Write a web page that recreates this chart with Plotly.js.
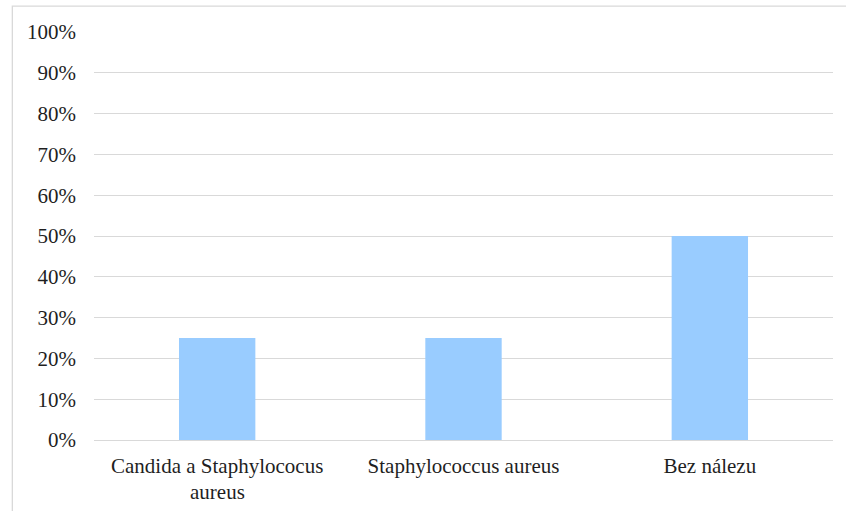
<!DOCTYPE html>
<html>
<head>
<meta charset="utf-8">
<script src="https://cdn.plot.ly/plotly-3.0.1.min.js"></script>
<style>
html,body{margin:0;padding:0;background:#fff;}
#chart{width:846px;height:511px;}
</style>
</head>
<body>
<div id="chart"></div>
<script>
const categories = ["Candida a Staphylococus", "Staphylococcus aureus", "Bez nálezu"];
const secondLines = ["aureus", "", ""];
const values = [0.25, 0.25, 0.50];

const FONT = 'Liberation Serif, Times New Roman, Times, serif';
const FSIZE = 21;
const TCOLOR = '#1f1f1f';

const trace = {
  type: 'bar',
  x: categories,
  y: values,
  marker: {color: '#99CCFF'},
  width: 0.31,
  hoverinfo: 'skip'
};

const annotations = categories.map((c, i) => ({
  x: c, xref: 'x', y: 0, yref: 'paper',
  text: secondLines[i], showarrow: false,
  xanchor: 'center', yanchor: 'top', yshift: -38,
  font: {family: FONT, size: FSIZE, color: TCOLOR}
})).filter(a => a.text);

const layout = {
  width: 846,
  height: 511,
  margin: {l: 94, r: 13, t: 32, b: 71},
  paper_bgcolor: '#ffffff',
  plot_bgcolor: '#ffffff',
  showlegend: false,
  font: {family: FONT, size: FSIZE, color: TCOLOR},
  xaxis: {
    showgrid: false,
    showline: false,
    zeroline: false,
    ticks: '',
    ticklabelstandoff: 11,
    tickfont: {family: FONT, size: FSIZE, color: TCOLOR}
  },
  yaxis: {
    range: [0, 1],
    dtick: 0.1,
    tickformat: '.0%',
    showgrid: true,
    gridcolor: '#d9d9d9',
    gridwidth: 1,
    zeroline: true,
    zerolinecolor: '#d9d9d9',
    zerolinewidth: 1,
    showline: false,
    ticks: '',
    ticklabelstandoff: 17,
    tickfont: {family: FONT, size: FSIZE, color: TCOLOR}
  },
  annotations: annotations,
  shapes: [{
    type: 'rect', xref: 'paper', yref: 'paper',
    x0: -0.1105, x1: 1.05, y0: -0.5, y1: 1.0635,
    line: {color: '#d9d9d9', width: 1.3},
    fillcolor: 'rgba(0,0,0,0)',
    layer: 'below'
  }]
};

Plotly.newPlot('chart', [trace], layout, {displayModeBar: false, staticPlot: true});
</script>
</body>
</html>
